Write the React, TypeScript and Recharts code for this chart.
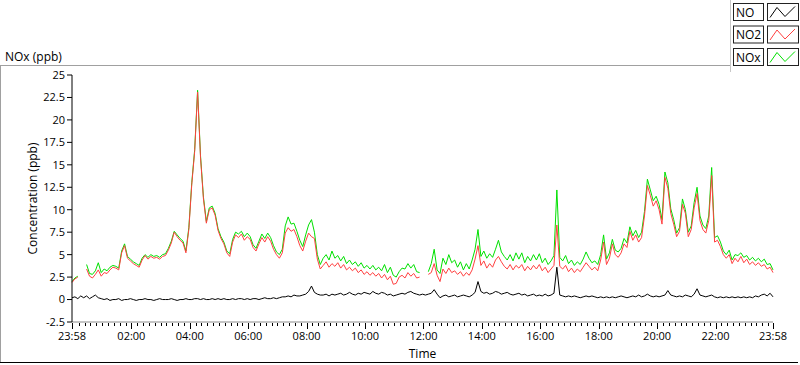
import React from 'react';
import { LineChart, Line, XAxis, YAxis, Legend } from 'recharts';

// one reading every 6 minutes, starting at 23:58
const STEP_MIN = 6;

const NO = [
  0.2, 0.3, 0.1, 0.4, 0.2, 0.4, 0.1, 0.3, 0.5, 0.2, 0.1,
  0.0, 0.1, -0.1, 0.0, 0.0, 0.1, -0.1, 0.0, 0.0, 0.1, 0.0, -0.1, 0.0, 0.0, 0.1, 0.0, 0.0, -0.1, 0.0, 0.1,
  0.0, 0.0, 0.0, 0.1, 0.0, -0.1, 0.0, 0.0, 0.1, 0.0,
  0.0, 0.1, 0.1, 0.0, 0.1, 0.0, 0.0, 0.1, 0.0, 0.1, 0.0, 0.1, 0.0, 0.0, 0.1, 0.0, 0.1, 0.1, 0.0, 0.1,
  0.0, 0.1, 0.1, 0.0, 0.1, 0.2, 0.1, 0.1, 0.2, 0.1,
  0.2, 0.3, 0.3, 0.4, 0.3, 0.5, 0.4, 0.4, 0.5, 0.6, 0.9, 1.5, 0.8, 0.6, 0.5, 0.5, 0.6, 0.4, 0.6, 0.5,
  0.6, 0.7, 0.5, 0.6, 0.8, 0.6, 0.5, 0.7, 0.6, 0.8, 0.7, 0.6, 0.9, 0.7, 0.6, 0.8, 0.7, 0.5, 0.6, 0.4,
  0.5, 0.6, 0.7, 0.6, 0.8, 0.9, 0.7, 0.6, 0.5, 0.6, 0.5, 0.6, 0.7, 1.1, 0.6,
  0.2, 0.4, 0.5, 0.3, 0.4, 0.5, 0.3, 0.4, 0.5, 0.4, 0.3, 0.5, 0.8,
  2.0,
  0.9, 0.7, 0.8, 0.6, 0.7, 0.9, 0.8, 0.6, 0.7, 0.8, 0.6, 0.5, 0.6, 0.7, 0.5, 0.6, 0.4, 0.5, 0.6, 0.4,
  0.5, 0.4, 0.6, 0.4, 0.5, 0.7,
  3.6,
  0.5, 0.4, 0.3, 0.4, 0.3, 0.4, 0.3, 0.2, 0.3, 0.4, 0.3, 0.4, 0.3, 0.2,
  0.3, 0.2, 0.3, 0.2, 0.3, 0.2, 0.3, 0.4, 0.3, 0.2,
  0.3, 0.4, 0.3, 0.5, 0.3, 0.4, 0.6, 0.4, 0.3, 0.4,
  0.3, 0.4, 0.5, 1.0, 0.5, 0.4, 0.3, 0.4, 0.3, 0.5,
  0.4, 0.3, 0.6, 1.2, 0.5, 0.4, 0.3, 0.4, 0.5, 0.3,
  0.2, 0.3, 0.2, 0.3, 0.2, 0.3, 0.2, 0.3, 0.2, 0.3,
  0.2, 0.3, 0.2, 0.4, 0.3, 0.5, 0.6, 0.4, 0.7, 0.3,
];

const NO2 = [
  1.9, 2.3, 2.5, null, null, 3.4, 2.6, 2.4, 2.8, 3.3,
  2.6, 3.0, 2.9, 3.3, 3.6, 3.5, 3.3, 5.2, 6.0, 4.6,
  4.3, 4.0, 3.8, 3.6, 4.4, 4.9, 4.5, 4.8, 4.6, 4.7,
  4.5, 4.8, 4.9, 5.5, 6.3, 7.5, 7.0, 6.6, 6.3, 5.2,
  7.8, 12.8, 16.5, 23.1, 15.8, 11.2, 8.5, 10.0, 10.2, 9.4,
  7.7, 6.8, 6.2, 5.2, 4.8, 6.4, 7.2, 6.9, 7.3, 6.6,
  7.0, 6.7, 5.8, 5.4, 6.2, 6.9, 6.4, 7.0, 6.5, 5.6,
  5.0, 4.6, 5.2, 7.4, 8.0, 7.6, 7.8, 7.0, 6.0, 5.4,
  6.5, 7.4, 7.0, 6.8, 4.5, 3.4, 3.8, 4.2, 3.6, 4.0,
  3.7, 4.1, 3.5, 3.9, 3.3, 3.6, 3.2, 3.5, 3.0, 3.3,
  2.8, 3.1, 2.7, 3.0, 2.6, 2.9, 2.4, 2.8, 2.2, 2.6,
  1.7, 1.8, 2.5, 2.7, 2.4, 3.0, 2.6, 2.9, 2.4, 2.5,
  null, null, 2.8, 3.0, 4.0, 2.7, 2.0, 3.4, 2.9, 3.5,
  3.0, 3.2, 2.8, 3.1, 2.6, 3.0, 2.7, 3.3, 4.5, 6.0,
  3.8, 4.3, 3.5, 4.0, 3.6, 4.4, 4.8, 4.2, 3.7, 3.4,
  3.9, 3.3, 3.8, 3.5, 3.9, 3.2, 3.7, 3.3, 3.8, 3.4,
  3.9, 3.2, 3.6, 3.0, 3.4, 3.8, 8.3, 3.7, 3.4, 3.8,
  3.1, 3.5, 3.0, 3.4, 3.1, 3.6, 4.1, 3.7, 3.3, 3.6,
  3.2, 4.4, 6.4, 3.9, 4.6, 6.2, 5.0, 4.7, 5.2, 6.2,
  5.8, 7.6, 6.6, 7.2, 6.4, 6.9, 9.3, 12.7, 11.6, 10.4,
  11.0, 10.0, 8.4, 13.6, 12.4, 9.6, 8.4, 7.0, 7.6, 10.6,
  9.6, 7.0, 7.8, 10.2, 11.8, 8.8, 7.8, 7.4, 8.8, 13.8,
  6.4, 6.6, 5.9, 5.0, 4.6, 5.0, 4.0, 4.6, 4.2, 4.8,
  4.1, 4.5, 3.9, 4.2, 3.8, 4.1, 3.7, 3.9, 3.4, 3.6,
  3.0,
];

const NOX = [
  2.0, 2.4, 2.6, null, null, 3.9, 2.9, 2.8, 3.2, 4.1,
  3.0, 3.4, 3.2, 3.6, 3.8, 3.7, 3.5, 5.4, 6.2, 4.8,
  4.5, 4.2, 4.0, 3.8, 4.6, 5.0, 4.7, 5.0, 4.8, 4.9,
  4.7, 5.0, 5.1, 5.7, 6.5, 7.6, 7.2, 6.8, 6.5, 5.4,
  8.0, 13.0, 16.7, 23.3, 16.0, 11.4, 8.7, 10.2, 10.4, 9.6,
  7.9, 7.0, 6.4, 5.4, 5.1, 6.7, 7.5, 7.3, 7.6, 7.0,
  7.4, 7.0, 6.1, 5.7, 6.5, 7.3, 6.8, 7.4, 6.9, 6.0,
  5.3, 5.0, 5.6, 8.2, 9.2, 8.4, 8.5, 7.6, 6.6, 5.9,
  7.2, 8.3, 8.9, 7.5, 5.0, 3.9, 4.6, 5.0, 4.4, 5.4,
  4.6, 4.9, 4.3, 4.8, 4.0, 4.4, 3.9, 4.2, 3.7, 4.1,
  3.5, 3.8, 3.4, 3.8, 3.3, 3.6, 3.2, 3.9, 3.0, 3.6,
  2.7, 2.5, 3.1, 3.5, 3.4, 4.0, 3.5, 3.9, 3.1, 3.0,
  null, null, 3.1, 4.0, 5.6, 3.3, 2.9, 4.6, 3.9, 5.0,
  4.1, 4.4, 3.6, 4.2, 3.3, 4.0, 3.4, 4.4, 5.6, 7.8,
  4.8, 5.4, 4.6, 5.1, 4.7, 5.6, 6.6, 5.3, 4.8, 4.4,
  5.0, 4.3, 5.2, 4.5, 5.2, 4.1, 4.8, 4.3, 5.0, 4.4,
  5.1, 4.1, 4.6, 3.9, 4.3, 4.9, 12.2, 4.7, 4.3, 4.9,
  4.0, 4.4, 3.8, 4.2, 3.9, 4.5, 5.3, 4.6, 4.1, 4.3,
  3.9, 5.0, 7.2, 4.5, 5.2, 6.7, 5.5, 5.3, 5.7, 6.8,
  6.3, 8.1, 7.1, 7.7, 6.9, 7.5, 9.8, 13.4, 12.2, 11.0,
  11.5, 10.6, 8.9, 14.2, 13.0, 10.1, 8.9, 7.4, 8.0, 11.2,
  10.0, 7.5, 8.2, 10.8, 12.5, 9.3, 8.3, 7.9, 9.3, 14.7,
  6.9, 7.1, 6.4, 5.4, 5.0, 5.5, 4.4, 5.0, 4.9, 5.2,
  4.7, 4.9, 4.4, 4.7, 4.3, 4.6, 4.2, 4.5, 3.9, 4.0,
  3.3,
];

// minutes after 23:58 and their labels
const MAJOR_TICKS = [0, 122, 242, 362, 482, 602, 722, 842, 962, 1082, 1202, 1322, 1440];
const MAJOR_LABELS = ['23:58', '02:00', '04:00', '06:00', '08:00', '10:00', '12:00', '14:00', '16:00', '18:00', '20:00', '22:00', '23:58'];
const Y_TICKS = [-2.5, 0, 2.5, 5, 7.5, 10, 12.5, 15, 17.5, 20, 22.5, 25];

const SERIES = [
  { key: 'NO', color: '#000000' },
  { key: 'NO2', color: '#ff4040' },
  { key: 'NOx', color: '#00e000' },
];

const data = NO.map((v, i) => ({ t: i * STEP_MIN, NO: v, NO2: NO2[i], NOx: NOX[i] }));

// minor ticks every 12 minutes on the clock
const minorTicks: number[] = [];
for (let m = 14; m < 1440; m += 12) {
  if (!MAJOR_TICKS.includes(m)) minorTicks.push(m);
}
const allTicks = [...MAJOR_TICKS, ...minorTicks].sort((a, b) => a - b);

const TimeTick = (props: any) => {
  const { x, y, payload } = props;
  const idx = MAJOR_TICKS.indexOf(payload.value);
  const px = Math.round(x) + 0.5;
  return (
    <g>
      <line x1={px} x2={px} y1={y + 1} y2={y + (idx >= 0 ? 7 : 4)} stroke="#000" />
      {idx >= 0 && (
        <text x={x} y={y + 18} textAnchor="middle" fontSize={11} fill="#000">
          {MAJOR_LABELS[idx]}
        </text>
      )}
    </g>
  );
};

const LegendBox = (props: any) => {
  const payload = props.payload || [];
  const items = SERIES.map((s) => {
    const p = payload.find((q: any) => q.value === s.key);
    return { name: s.key, color: p ? p.color : s.color };
  });
  return (
    <svg width={70} height={72} style={{ display: 'block' }}>
      {items.map((p, i) => {
        const y0 = 3.5 + i * 22.5;
        return (
          <g key={p.name}>
            <rect x={3.5} y={y0} width={30} height={17} fill="#fff" stroke="#222" />
            <text x={6} y={y0 + 13} fontSize={12} fill="#000">{p.name}</text>
            <rect x={37.5} y={y0} width={31} height={17} fill="#fff" stroke="#222" />
            <polyline
              points={`40,${y0 + 14} 47,${y0 + 4} 55,${y0 + 13} 65,${y0 + 3}`}
              fill="none"
              stroke={p.color}
            />
          </g>
        );
      })}
    </svg>
  );
};

export default function App() {
  return (
    <div style={{ position: 'relative', width: 800, height: 365, fontFamily: "'Open Sans', sans-serif", background: '#fff' }}>
      <style>{'body{margin:0}'}</style>
      <LineChart width={800} height={365} data={data} margin={{ top: 75, right: 27, bottom: 0, left: 0 }}>
        <XAxis
          dataKey="t"
          type="number"
          domain={[0, 1440]}
          ticks={allTicks}
          interval={0}
          tick={(p: any) => <TimeTick {...p} />}
          tickLine={false}
          tickSize={0}
          tickMargin={0}
          height={43}
          axisLine={{ stroke: '#8c8c8c' }}
          label={{ value: 'Time', position: 'insideBottom', offset: 7, style: { fontSize: 12, fill: '#000' } }}
        />
        <XAxis xAxisId="top" orientation="top" type="number" domain={[0, 1440]} height={0} tick={false} tickLine={false} axisLine={{ stroke: '#000' }} />
        <YAxis
          type="number"
          domain={[-2.5, 25]}
          ticks={Y_TICKS}
          interval={0}
          width={72}
          tickSize={5}
          tickMargin={2}
          tick={{ fontSize: 11, fill: '#000' }}
          tickLine={{ stroke: '#000' }}
          axisLine={{ stroke: '#000' }}
          label={{ value: 'Concentration (ppb)', angle: -90, position: 'insideLeft', offset: 33, style: { textAnchor: 'middle', fontSize: 12, fill: '#000' } }}
        />
        <YAxis yAxisId="right" orientation="right" type="number" domain={[0, 1]} width={0} tick={false} tickLine={false} axisLine={{ stroke: '#8c8c8c' }} />
        <Legend
          layout="vertical"
          align="center"
          verticalAlign="middle"
          content={(p: any) => <LegendBox {...p} />}
          wrapperStyle={{ top: 0, left: 730, width: 70, height: 72 }}
        />
        <Line dataKey="NOx" name="NOx" stroke="#00e000" strokeWidth={1} dot={false} connectNulls={false} isAnimationActive={false} />
        <Line dataKey="NO2" name="NO2" stroke="#ff4040" strokeWidth={1} dot={false} connectNulls={false} isAnimationActive={false} />
        <Line dataKey="NO" name="NO" stroke="#000000" strokeWidth={1} dot={false} connectNulls={false} isAnimationActive={false} />
      </LineChart>
      <div style={{ position: 'absolute', left: 5, top: 49, fontSize: 12, lineHeight: '16px', color: '#000' }}>NOx (ppb)</div>
      <div style={{ position: 'absolute', left: 0, top: 65, width: 731, height: 1, background: '#a0a0a0' }} />
      <div style={{ position: 'absolute', left: 0, top: 65, width: 1, height: 298, background: '#a0a0a0' }} />
      <div style={{ position: 'absolute', left: 730, top: 0, width: 1, height: 72, background: '#c8c8c8' }} />
      <div style={{ position: 'absolute', left: 0, top: 362, width: 798, height: 1, background: '#000' }} />
    </div>
  );
}
